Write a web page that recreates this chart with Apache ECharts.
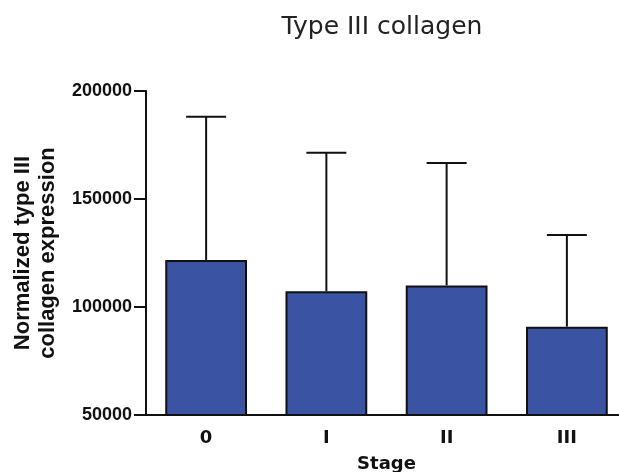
<!DOCTYPE html>
<html>
<head>
<meta charset="utf-8">
<script src="https://cdn.jsdelivr.net/npm/echarts@6/dist/echarts.min.js"></script>
<style>
html, body { margin: 0; padding: 0; background: #fff; }
#chart { width: 619px; height: 472px; }
</style>
</head>
<body>
<div id="chart"></div>
<script>
// data
var stages = ['0', 'I', 'II', 'III'];
var means = [121800, 107300, 110000, 90900];
var upperErr = [188100, 171400, 166700, 133300];
var yTicks = [50000, 100000, 150000, 200000];

var myChart = echarts.init(document.getElementById('chart'));

var option = {
	animation: false,
	backgroundColor: '#fff',
	title: {
		text: 'Type III collagen',
		left: 377,
		top: 10,
		textAlign: 'center',
		textStyle: {
			fontFamily: 'DejaVu Sans',
			fontSize: 25,
			fontWeight: 'normal',
			color: '#222'
		}
	},
	grid: {
		left: 146,
		top: 91,
		width: 481,
		height: 324,
		outerBoundsMode: 'none'
	},
	xAxis: {
		type: 'category',
		data: stages,
		name: 'Stage',
		nameLocation: 'middle',
		nameGap: 40,
		nameTextStyle: {
			fontFamily: 'DejaVu Sans',
			fontSize: 18,
			fontWeight: 'bold',
			color: '#111'
		},
		axisLine: { lineStyle: { color: '#111', width: 2 } },
		axisTick: { show: false },
		axisLabel: {
			margin: 14,
			fontFamily: 'DejaVu Sans',
			fontSize: 18,
			fontWeight: 'bold',
			color: '#111'
		},
		splitLine: { show: false }
	},
	yAxis: {
		type: 'value',
		min: yTicks[0],
		max: yTicks[yTicks.length - 1],
		interval: 50000,
		name: 'Normalized type III\ncollagen expression',
		nameLocation: 'middle',
		nameRotate: 90,
		nameGap: 86,
		nameTextStyle: {
			fontFamily: 'Liberation Sans',
			fontSize: 22,
			fontWeight: 'bold',
			lineHeight: 25,
			color: '#111'
		},
		axisLine: { show: true, lineStyle: { color: '#111', width: 2 } },
		axisTick: { show: true, length: 12, lineStyle: { color: '#111', width: 2 } },
		axisLabel: {
			margin: 14,
			formatter: function (v) { return String(v); },
			fontFamily: 'Liberation Sans',
			fontSize: 18,
			fontWeight: 'bold',
			color: '#111'
		},
		splitLine: { show: false }
	},
	series: [
		{
			type: 'custom',
			name: 'error',
			z: 1,
			data: stages.map(function (s, i) { return [i, means[i], upperErr[i]]; }),
			renderItem: function (params, api) {
				var base = api.coord([api.value(0), api.value(1)]);
				var top = api.coord([api.value(0), api.value(2)]);
				var half = 20;
				var style = { stroke: '#111', lineWidth: 2 };
				return {
					type: 'group',
					children: [
						{ type: 'line', shape: { x1: base[0], y1: base[1], x2: top[0], y2: top[1] }, style: style },
						{ type: 'line', shape: { x1: top[0] - half, y1: top[1], x2: top[0] + half, y2: top[1] }, style: style }
					]
				};
			}
		},
		{
			type: 'bar',
			name: 'mean',
			z: 2,
			barWidth: '68%',
			data: means,
			itemStyle: {
				color: '#3a53a3',
				borderColor: '#111',
				borderWidth: 2
			}
		}
	]
};

myChart.setOption(option);
</script>
</body>
</html>
